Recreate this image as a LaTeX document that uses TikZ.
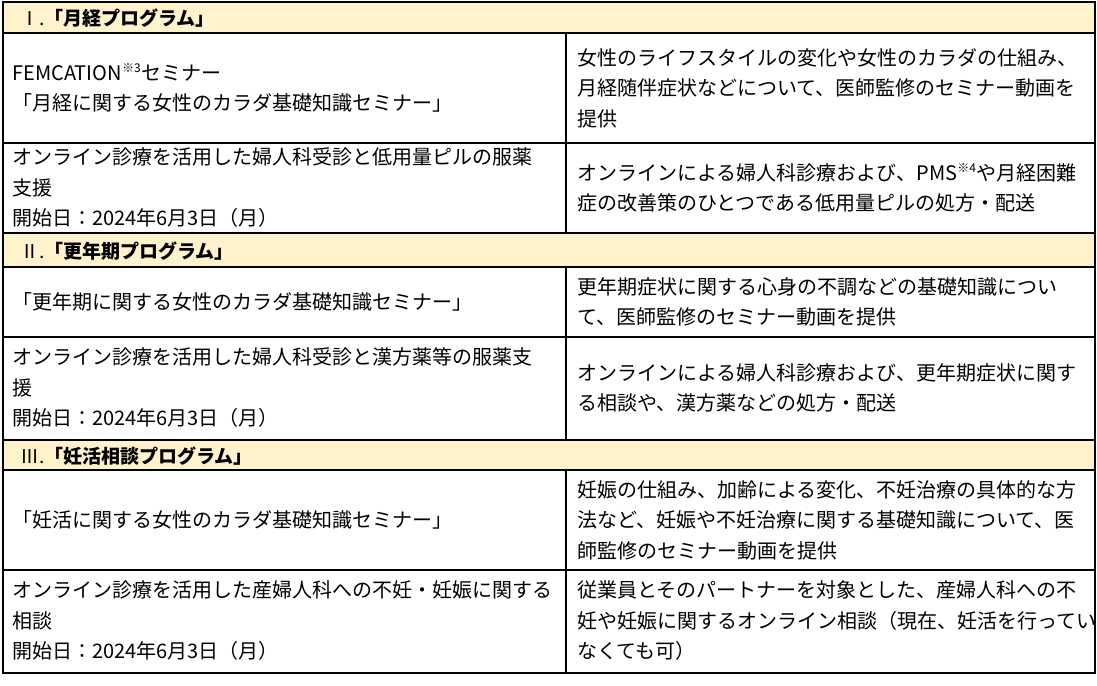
\documentclass[tikz,border=0pt]{standalone}
\usepackage{fontspec}
\setmainfont{Noto Sans CJK JP}
\usetikzlibrary{positioning}
\definecolor{hdrfill}{HTML}{FFF2CC}
\newcommand{\sups}[1]{\textsuperscript{\fontsize{12pt}{12pt}\selectfont #1}}
\begin{document}
\begin{tikzpicture}[
					x = 1pt, y = -1pt,
					cell/.style = {
						anchor = west,
						align = left,
						inner sep = 0pt,
						font = \fontsize{20pt}{30.5pt}\selectfont,
					},
					hdr/.style = {
						cell,
						font = \fontsize{19pt}{22pt}\selectfont,
					},
					rule/.style = {line width = 1.4pt},
			]
				\useasboundingbox (0, 0) rectangle (1097, 685);
				% header bands
				\fill[hdrfill] (3, 2) rectangle (1095, 33);
				\fill[hdrfill] (3, 233) rectangle (1095, 267);
				\fill[hdrfill] (3, 440) rectangle (1095, 470);

				\draw (20, 18) node (h1) [hdr] {Ⅰ.\textbf{「月経プログラム」}};
				\draw (20, 251) node (h2) [hdr] {Ⅱ.\textbf{「更年期プログラム」}};
				\draw (20, 456) node (h3) [hdr] {Ⅲ.\textbf{「妊活相談プログラム」}};

				\draw (12, 88) node (a1) [cell] {FEMCATION\sups{※3}セミナー\\「月経に関する女性のカラダ基礎知識セミナー」};
				\draw (12, 188) node (a2) [cell] {オンライン診療を活用した婦人科受診と低用量ピルの服薬\\支援\\開始日：2024年6月3日（月）};
				\draw (12, 302) node (a3) [cell] {「更年期に関する女性のカラダ基礎知識セミナー」};
				\draw (12, 388) node (a4) [cell] {オンライン診療を活用した婦人科受診と漢方薬等の服薬支\\援\\開始日：2024年6月3日（月）};
				\draw (12, 520) node (a5) [cell] {「妊活に関する女性のカラダ基礎知識セミナー」};
				\draw (12, 621) node (a6) [cell] {オンライン診療を活用した産婦人科への不妊・妊娠に関する\\相談\\開始日：2024年6月3日（月）};

				\draw (577, 88) node (b1) [cell] {女性のライフスタイルの変化や女性のカラダの仕組み、\\月経随伴症状などについて、医師監修のセミナー動画を\\提供};
				\draw (577, 188) node (b2) [cell] {オンラインによる婦人科診療および、PMS\sups{※4}や月経困難\\症の改善策のひとつである低用量ピルの処方・配送};
				\draw (577, 302) node (b3) [cell] {更年期症状に関する心身の不調などの基礎知識につい\\て、医師監修のセミナー動画を提供};
				\draw (577, 388) node (b4) [cell] {オンラインによる婦人科診療および、更年期症状に関す\\る相談や、漢方薬などの処方・配送};
				\draw (577, 520) node (b5) [cell] {妊娠の仕組み、加齢による変化、不妊治療の具体的な方\\法など、妊娠や不妊治療に関する基礎知識について、医\\師監修のセミナー動画を提供};
				\draw (577, 621) node (b6) [cell] {従業員とそのパートナーを対象とした、産婦人科への不\\妊や妊娠に関するオンライン相談（現在、妊活を行ってい\\なくても可）};

				% rules
				\draw[rule] (3, 2) rectangle (1095, 673);
				\foreach \y in {33, 143, 233, 267, 337, 440, 470, 570}
					\draw[rule] (3, \y) -- (1095, \y);
				\draw[rule] (566, 33) -- (566, 233);
				\draw[rule] (566, 267) -- (566, 440);
				\draw[rule] (566, 470) -- (566, 673);
			\end{tikzpicture}
\end{document}
